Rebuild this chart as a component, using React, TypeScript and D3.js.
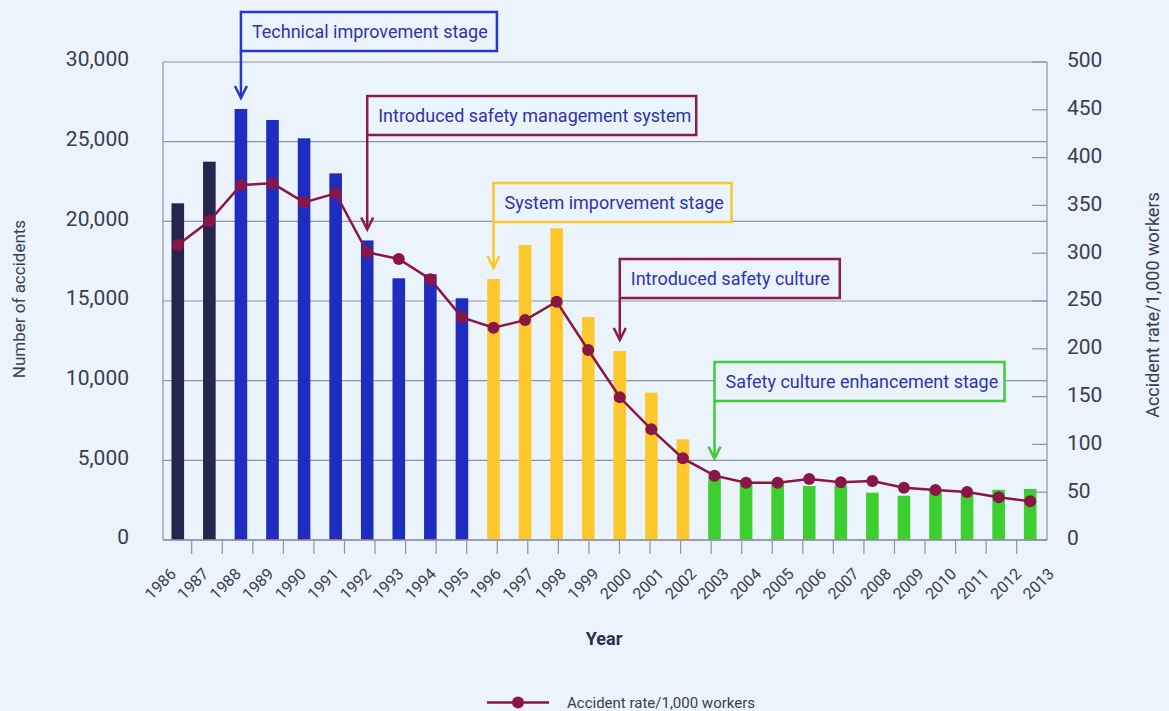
import React from 'react';
import * as d3 from 'd3';

const years = ['1986','1987','1988','1989','1990','1991','1992','1993','1994','1995','1996','1997','1998','1999','2000','2001','2002','2003','2004','2005','2006','2007','2008','2009','2010','2011','2012','2013'];
const accidents = [21130, 23745, 27050, 26360, 25210, 23010, 18800, 16425, 16680, 15170, 16380, 18515, 19560, 14000, 11860, 9245, 6320, 3970, 3560, 3560, 3390, 3390, 2970, 2780, 3100, 3050, 3150, 3200];
const rates = [308.6, 333.7, 371.3, 373.1, 353.2, 362.6, 301, 293.9, 272.7, 232.9, 222, 230, 249.3, 198.7, 149.3, 115.8, 85.4, 67.3, 59.9, 59.9, 63.8, 60.4, 61.7, 54.7, 52.3, 50.2, 44.7, 40.5];
const stages = ['pre','pre','tech','tech','tech','tech','tech','tech','tech','tech','system','system','system','system','system','system','system','culture','culture','culture','culture','culture','culture','culture','culture','culture','culture','culture'];
const leftTicks = [0, 5000, 10000, 15000, 20000, 25000, 30000];
const rightTicks = [0, 50, 100, 150, 200, 250, 300, 350, 400, 450, 500];

const annTexts = ['Technical improvement stage', 'Introduced safety management system', 'System imporvement stage', 'Introduced safety culture', 'Safety culture enhancement stage'];
const annYears = ['1988', '1992', '1996', '2000', '2003'];
const annKinds = ['blue', 'maroon', 'yellow', 'maroon', 'green'];

const COLORS: Record<string, string> = { pre: '#25254d', tech: '#1f2cc0', system: '#fdc82c', culture: '#3ccf2f' };
const ANN_COLORS: Record<string, string> = { blue: '#2a36c7', maroon: '#8b1a4d', yellow: '#f8c82a', green: '#3fcb3a' };
const BG = '#ebf3fc';
const GRID = '#8f92a6';
const TEXT = '#3a3d4f';
const LINE = '#8a1648';
const FONT = 'Roboto, sans-serif';

// annotation box layout (top, width)
const annLayout = [
  { top: 12, width: 256 },
  { top: 96, width: 329 },
  { top: 183, width: 238 },
  { top: 259, width: 220 },
  { top: 362, width: 290 },
];

export default function App() {
  const W = 1169, H = 711;
  const left = 163, right = 1047, top = 62, bottom = 540;

  const x = d3.scaleBand<string>().domain(years).range([162, 1046]).padding(0);
  const bw = 12.6;
  const cx = (y: string) => (x(y) as number) + x.bandwidth() / 2;
  const tickX = d3.scalePoint<string>().domain(years).range([191.7, 1016.7]);
  const labelX = d3.scalePoint<string>().domain(years).range([177, 1055]);
  const yL = d3.scaleLinear().domain([0, 30000]).range([bottom, top]);
  const yR = d3.scaleLinear().domain([0, 500]).range([bottom, top]);
  const fmt = d3.format(',');

  const lineGen = d3.line<number>().x((_, i) => cx(years[i])).y((d) => yR(d));

  return (
    <svg width={W} height={H} style={{ position: 'absolute', left: 0, top: 0 }} fontFamily={FONT}>
      <rect x={0} y={0} width={W} height={H} fill={BG} />
      {/* gridlines */}
      {leftTicks.map((t) => (
        <line key={'g' + t} x1={left} x2={right} y1={yL(t)} y2={yL(t)} stroke={GRID} strokeWidth={1.2} />
      ))}
      {/* bars */}
      {years.map((yr, i) => (
        <rect key={'b' + yr} x={cx(yr) - bw / 2} y={yL(accidents[i])} width={bw} height={bottom - yL(accidents[i])} fill={COLORS[stages[i]]} />
      ))}
      {/* axes */}
      <line x1={left} x2={left} y1={top} y2={bottom} stroke={GRID} strokeWidth={1.2} />
      <line x1={right} x2={right} y1={top} y2={bottom} stroke={GRID} strokeWidth={1.2} />
      <line x1={left} x2={right} y1={bottom} y2={bottom} stroke={GRID} strokeWidth={1.5} />
      {rightTicks.map((t) => (
        <line key={'rt' + t} x1={right - 15} x2={right} y1={yR(t)} y2={yR(t)} stroke={GRID} strokeWidth={1.2} />
      ))}
      {years.map((yr) => (
        <line key={'xt' + yr} x1={tickX(yr)} x2={tickX(yr)} y1={bottom} y2={bottom + 14} stroke={GRID} strokeWidth={1.2} />
      ))}
      {/* left tick labels */}
      {leftTicks.map((t) => (
        <text key={'lt' + t} x={129} y={yL(t) - 3} dy="0.35em" textAnchor="end" fontSize={21} fill={TEXT}>{fmt(t)}</text>
      ))}
      {rightTicks.map((t) => (
        <text key={'rl' + t} x={1067} y={yR(t) - 2} dy="0.35em" textAnchor="start" fontSize={21} fill={TEXT}>{t}</text>
      ))}
      {/* x labels */}
      {years.map((yr) => (
        <text key={'xl' + yr} x={labelX(yr)} y={575} transform={`rotate(-45 ${labelX(yr)} 575)`} textAnchor="end" fontSize={16} fill={TEXT}>{yr}</text>
      ))}
      {/* axis titles */}
      <text x={25} y={299} transform="rotate(-90 25 299)" textAnchor="middle" fontSize={17} fill={TEXT}>Number of accidents</text>
      <text x={1159} y={305} transform="rotate(-90 1159 305)" textAnchor="middle" fontSize={18} fill={TEXT}>Accident rate/1,000 workers</text>
      <text x={604} y={645} textAnchor="middle" fontSize={18} fontWeight="bold" fill="#2c2e4c">Year</text>
      {/* rate line */}
      <path d={lineGen(rates) || ''} fill="none" stroke={LINE} strokeWidth={2.5} />
      {rates.map((r, i) => (
        <circle key={'d' + i} cx={cx(years[i])} cy={yR(r)} r={6} fill={LINE} />
      ))}
      {/* annotations */}
      {annTexts.map((txt, k) => {
        const yr = annYears[k];
        const i = years.indexOf(yr);
        const ax = cx(yr);
        const tip = Math.min(yL(accidents[i]), yR(rates[i]) - 6) - 11;
        const lay = annLayout[k];
        const col = ANN_COLORS[annKinds[k]];
        const boxH = 39;
        return (
          <g key={'a' + k}>
            <rect x={ax} y={lay.top} width={lay.width} height={boxH} fill={BG} stroke={col} strokeWidth={2.5} />
            <line x1={ax} x2={ax} y1={lay.top + boxH} y2={tip} stroke={col} strokeWidth={2.5} />
            <polyline points={`${ax - 6},${tip - 12} ${ax},${tip} ${ax + 6},${tip - 12}`} fill="none" stroke={col} strokeWidth={2.5} />
            <text x={ax + 11} y={lay.top + 26} fontSize={18} fill="#2c33b4">{txt}</text>
          </g>
        );
      })}
      {/* legend */}
      <line x1={487} x2={549} y1={702.5} y2={702.5} stroke={LINE} strokeWidth={2.5} />
      <circle cx={518} cy={702.5} r={6} fill={LINE} />
      <text x={567} y={708} fontSize={15} fill={TEXT}>Accident rate/1,000 workers</text>
    </svg>
  );
}
